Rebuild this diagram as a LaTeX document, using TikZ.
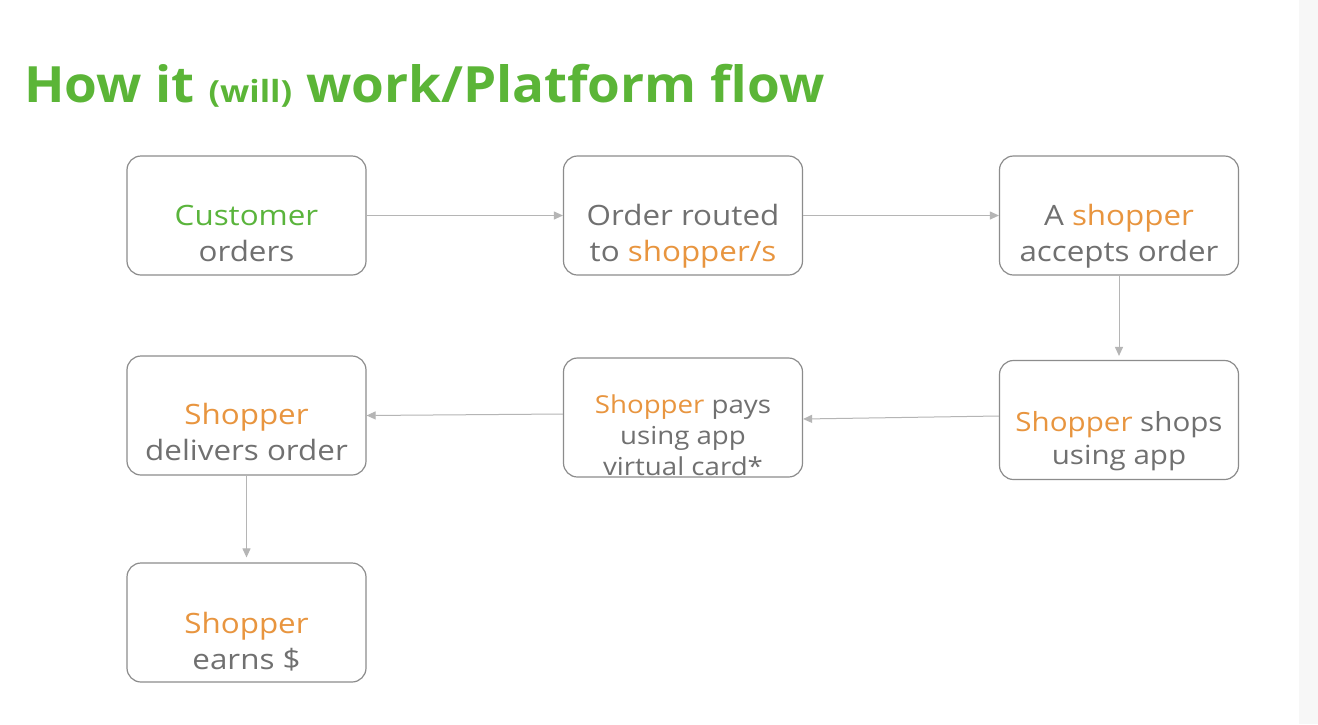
\documentclass[tikz,border=0pt]{standalone}
\usepackage{fontspec}
\setmainfont{Open Sans}[FakeStretch=1.12]
\newfontfamily\titlefont{Open Sans}[FakeStretch=1.06]
\newfontfamily\willfont{Open Sans}[FakeStretch=1.12]
\usetikzlibrary{arrows.meta}
\definecolor{txtgray}{HTML}{707070}
\definecolor{boxgray}{HTML}{8C8C8C}
\definecolor{arrgray}{HTML}{B5B5B5}
\definecolor{custgreen}{HTML}{5AB43C}
\definecolor{titlegreen}{HTML}{5BB537}
\definecolor{orng}{HTML}{E8953F}
\definecolor{stripgray}{HTML}{F7F7F7}
\newcommand\mlines[3]{\fontsize{#1}{#2}\selectfont\begin{tabular}[t]{@{}c@{}}#3\end{tabular}}
\begin{document}
\begin{tikzpicture}[x=1pt,y=-1pt,
  box/.style={draw=boxgray, line width=1.2pt, rounded corners=14pt, minimum width=239pt, minimum height=119pt, inner sep=0pt},
  lbl/.style={anchor=base, inner sep=0pt, text=txtgray},
  conn/.style={draw=arrgray, line width=1pt, -{Triangle[length=9pt,width=8pt]}}]
\fill[white] (0,0) rectangle (1318,724);
\fill[stripgray] (1299,0) rectangle (1318,724);
\useasboundingbox (0,0) rectangle (1318,724);

\node[anchor=base west, inner sep=0pt, text=titlegreen, font={\titlefont\fontsize{50}{60}\selectfont\bfseries}] (title) at (24,102)
  {How it {\willfont\fontsize{30.5}{36}\selectfont\bfseries(will)} work/Platform flow};

\node[box] (b1) at (246.5,215.5) {};
\node[box] (b2) at (683,215.5) {};
\node[box] (b3) at (1119,215.5) {};
\node[box] (b4) at (1119,420) {};
\node[box] (b5) at (683,417.5) {};
\node[box] (b6) at (246.5,415.5) {};
\node[box] (b7) at (246.5,622.5) {};

\node[lbl] (t1) at (246.5,225) {\mlines{28}{36.5}{\textcolor{custgreen}{Customer}\\orders}};
\node[lbl] (t2) at (683,225) {\mlines{28}{36.5}{Order routed\\to \textcolor{orng}{shopper/s}}};
\node[lbl] (t3) at (1119,225) {\mlines{28}{36.5}{A \textcolor{orng}{shopper}\\accepts order}};
\node[lbl] (t4) at (1119,431) {\mlines{26.4}{33}{\textcolor{orng}{Shopper} shops\\using app}};
\node[lbl] (t5) at (683,413) {\mlines{24.7}{31}{\textcolor{orng}{Shopper} pays\\using app\\virtual card*}};
\node[lbl] (t6) at (246.5,424) {\mlines{28}{36.5}{\textcolor{orng}{Shopper}\\delivers order}};
\node[lbl] (t7) at (246.5,633) {\mlines{28}{36.5}{\textcolor{orng}{Shopper}\\earns \$}};

\draw[conn] (b1.east) -- (b2.west);
\draw[conn] (b2.east) -- (b3.west);
\draw[conn, shorten >=4pt] (b3.south) -- (b4.north);
\draw[conn] ([yshift=4pt]b4.west) -- ([yshift=-1.5pt]b5.east);
\draw[conn] ([yshift=3.5pt]b5.west) -- (b6.east);
\draw[conn, shorten >=5pt] (b6.south) -- (b7.north);
\end{tikzpicture}
\end{document}
